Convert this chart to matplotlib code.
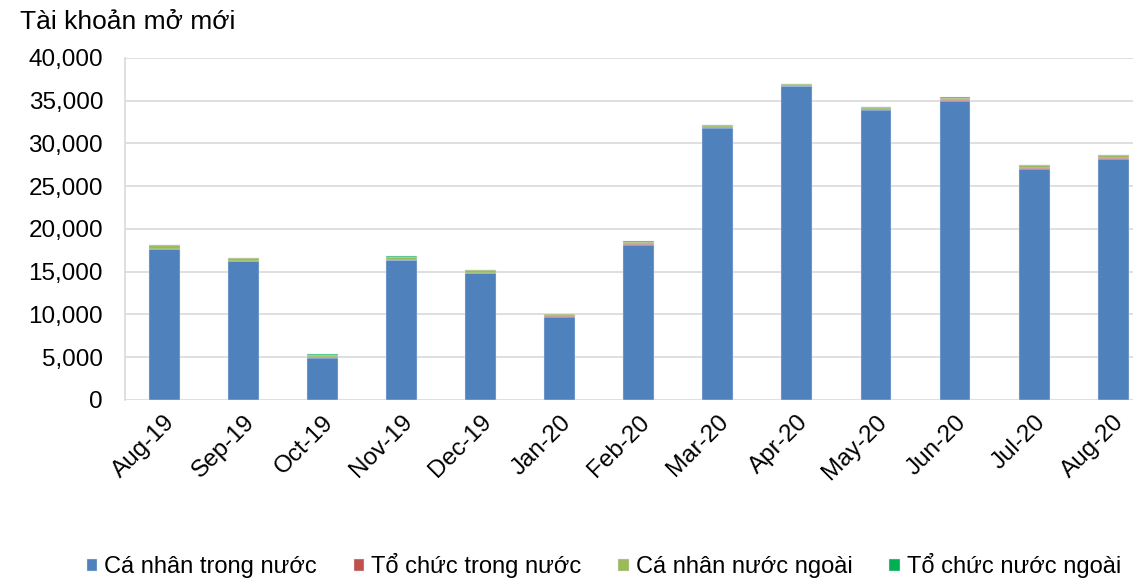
import matplotlib
matplotlib.use("Agg")
import matplotlib.pyplot as plt
import numpy as np

months = ["Aug-19", "Sep-19", "Oct-19", "Nov-19", "Dec-19", "Jan-20", "Feb-20",
          "Mar-20", "Apr-20", "May-20", "Jun-20", "Jul-20", "Aug-20"]
ca_nhan_trong_nuoc = [17600, 16200, 4950, 16350, 14800, 9750, 18150,
                      31850, 36650, 33950, 35000, 27050, 28200]
to_chuc_trong_nuoc = [90, 60, 40, 70, 60, 40, 70, 80, 90, 80, 80, 90, 100]
ca_nhan_nuoc_ngoai = [380, 320, 320, 350, 350, 290, 300, 250, 200, 250, 260, 330, 330]
to_chuc_nuoc_ngoai = [30, 20, 30, 30, 30, 20, 30, 20, 20, 20, 20, 20, 20]

series = [
    ("Cá nhân trong nước", ca_nhan_trong_nuoc, "#4F81BD"),
    ("Tổ chức trong nước", to_chuc_trong_nuoc, "#C0504D"),
    ("Cá nhân nước ngoài", ca_nhan_nuoc_ngoai, "#9BBB59"),
    ("Tổ chức nước ngoài", to_chuc_nuoc_ngoai, "#00B050"),
]

plt.rcParams['font.family'] = ['Liberation Sans', 'DejaVu Sans']

fig = plt.figure(figsize=(11.33, 5.78), dpi=100)
ax = fig.add_axes([0.110, 0.308, 0.890, 0.592])

x = np.arange(len(months))
bottom = np.zeros(len(months))
for label, vals, color in series:
    ax.bar(x, vals, width=0.39, bottom=bottom, color=color, label=label,
           edgecolor="#DCE6F2", linewidth=0.3, zorder=3)
    bottom += np.array(vals)

ax.set_ylim(0, 40000)
ax.set_yticks(np.arange(0, 40001, 5000))
ax.set_yticklabels([f"{v:,}" for v in range(0, 40001, 5000)], fontsize=17.5)
ax.set_xlim(-0.5, 12.25)
ax.set_xticks(x)
ax.set_xticklabels(months, rotation=45, ha="right", rotation_mode="anchor", fontsize=17.5)
ax.tick_params(axis="y", length=0, pad=15.5)
ax.tick_params(axis="x", length=0, pad=8)

ax.grid(axis="y", color="#D9D9D9", linewidth=1.2, zorder=0)
for s in ["top", "right", "bottom"]:
    ax.spines[s].set_visible(False)
ax.spines["left"].set_color("#D9D9D9")
ax.spines["left"].set_linewidth(1.2)

fig.text(0.018, 0.962, "Tài khoản mở mới", fontsize=19, va="center", ha="left")

fig.legend(loc="center", bbox_to_anchor=(0.533, 1 - 566 / 578), ncol=4, frameon=False,
           fontsize=17, handlelength=0.45, handleheight=0.45, handletextpad=0.3,
           columnspacing=1.55)

fig.savefig("out.png", dpi=100)
